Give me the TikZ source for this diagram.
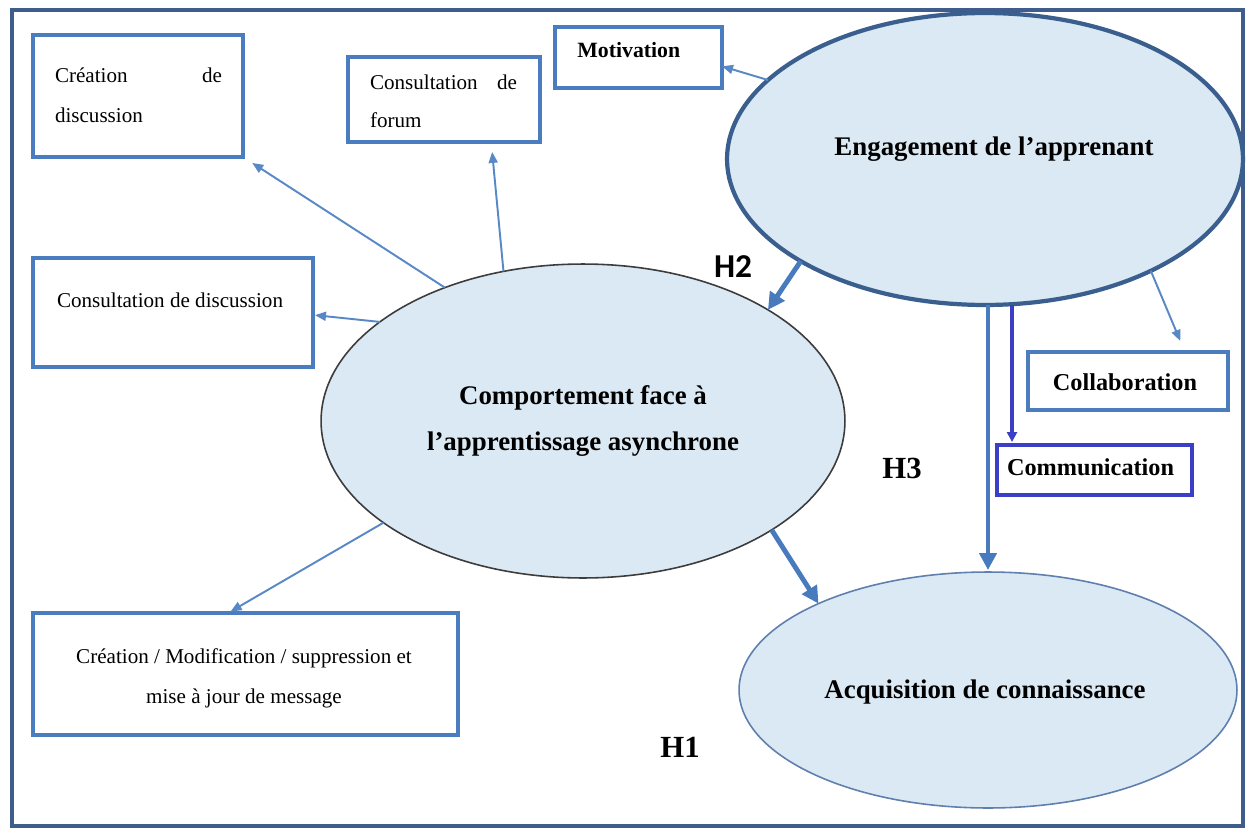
\documentclass[tikz,border=0pt]{standalone}
\usepackage{fontspec}
\setmainfont{Liberation Serif}
\newfontfamily\labelsans{Carlito}
\usetikzlibrary{arrows.meta,shapes.geometric,calc}

\definecolor{boxblue}{RGB}{74,125,192}
\definecolor{framecol}{RGB}{62,92,140}
\definecolor{engedge}{RGB}{58,95,142}
\definecolor{bubble}{RGB}{218,233,243}
\definecolor{linkblue}{RGB}{88,137,198}
\definecolor{strongblue}{RGB}{72,122,190}
\definecolor{combl}{RGB}{58,63,198}
\definecolor{compedge}{RGB}{60,60,60}
\definecolor{acqedge}{RGB}{95,127,174}

\tikzset{
  x=0.02cm, y=-0.02cm,
  box/.style={draw=boxblue, line width=2.3pt, fill=white, rectangle,
              inner sep=0pt, outer sep=0pt},
  bubblenode/.style={ellipse, fill=bubble, inner sep=0pt, outer sep=0pt},
  txt/.style={inner sep=0pt, outer sep=0pt, font=\fontsize{12}{14}\selectfont},
  boldtxt/.style={inner sep=0pt, outer sep=0pt, font=\fontsize{13.8}{16}\selectfont\bfseries},
  bigtxt/.style={inner sep=0pt, outer sep=0pt, font=\fontsize{15.3}{18}\selectfont\bfseries},
  hyp/.style={inner sep=0pt, outer sep=0pt, font=\fontsize{17.5}{20}\selectfont\bfseries},
  thinlink/.style={draw=linkblue, line width=1.1pt,
              -{Triangle[length=0.22cm,width=0.18cm]}},
  thicklink/.style={draw=strongblue, line width=2.8pt,
              -{Triangle[length=0.34cm,width=0.34cm]}},
}

\begin{document}
\begin{tikzpicture}
  \useasboundingbox (0,0) rectangle (1247,828);
  \fill[white] (0,0) rectangle (1247,828);

  % outer frame
  \draw[framecol, line width=2.4pt] (12,10) rectangle (1243,826);

  % main constructs
  \node[bubblenode, draw=compedge, line width=0.9pt,
        minimum width=10.48cm, minimum height=6.28cm,
        align=center, font=\fontsize{15.3}{26.6}\selectfont\bfseries]
        (comp) at (583,421) {Comportement face à\\l’apprentissage asynchrone};
  \node[bubblenode, draw=engedge, line width=2.4pt,
        minimum width=10.32cm, minimum height=5.84cm] (eng) at (985,159) {};
  \node[bigtxt, anchor=base] (englabel) at (994,155) {Engagement de l’apprenant};
  \node[bubblenode, draw=acqedge, line width=0.9pt,
        minimum width=9.96cm, minimum height=4.72cm] (acq) at (988,690) {};
  \node[bigtxt, anchor=base] (acqlabel) at (985,698) {Acquisition de connaissance};

  % indicator boxes
  \node[box, minimum width=4.2cm, minimum height=2.44cm] (crd) at (138,96) {};
  \node[txt, anchor=base west] (crd1) at (55,83) {\makebox[3.34cm][s]{Création de}};
  \node[txt, anchor=base west] (crd2) at (55,122) {discussion};

  \node[box, minimum width=3.84cm, minimum height=1.70cm] (forum) at (444,99.5) {};
  \node[txt, anchor=base west] (forum1) at (370,90) {\makebox[2.94cm][s]{Consultation de}};
  \node[txt, anchor=base west] (forum2) at (370,128) {forum};

  \node[box, minimum width=3.34cm, minimum height=1.22cm] (mot) at (638.5,57.5) {};
  \node[inner sep=0pt, font=\fontsize{12.4}{14}\selectfont\bfseries, anchor=base west]
        (motlabel) at (577,58) {Motivation};

  \node[box, minimum width=5.6cm, minimum height=2.18cm] (cdd) at (173,312.5) {};
  \node[txt, anchor=base west] (cddlabel) at (57,307) {Consultation de discussion};

  \node[box, minimum width=8.5cm, minimum height=2.44cm] (cmm) at (245.5,674) {};
  \node[txt, anchor=base] (cmm1) at (244,663) {Création / Modification / suppression et};
  \node[txt, anchor=base] (cmm2) at (244,703) {mise à jour de message};

  \node[box, minimum width=4.0cm, minimum height=1.16cm] (col) at (1128,381) {};
  \node[boldtxt, anchor=base] (collabel) at (1125,390) {Collaboration};

  \node[box, draw=combl, minimum width=3.9cm, minimum height=1.0cm] (com) at (1094.5,470) {};
  \node[boldtxt, anchor=base west] (comlabel) at (1007,475) {Communication};
  \coordinate (comtop) at ($(com.north west)+(15,0)$);
  \coordinate (acqtop) at (acq.north);

  % hypothesis labels
  \node[inner sep=0pt, font=\labelsans\fontsize{19}{22}\selectfont\bfseries, anchor=base]
        (h2) at (733,277) {H2};
  \node[hyp, anchor=base] (h3) at (902,478) {H3};
  \node[hyp, anchor=base] (h1) at (680,757) {H1};

  % behaviour indicators
  \draw[thinlink, shorten >=0.22cm] (comp.136.6) -- (crd.south east);
  \draw[thinlink, shorten >=0.2cm] (comp.118.9) -- (forum.-42.7);
  \draw[thinlink, shorten >=0.04cm] (comp.154.5) -- (cdd.-1);
  \draw[thinlink, shorten >=0.06cm] (comp.207.2) -- (cmm.106);

  % engagement indicators
  \draw[thinlink] (eng.160.4) -- (mot.-6.5);
  \draw[thinlink, shorten >=0.24cm] (eng.-34.2) -- (col.27.8);
  \draw[draw=combl, line width=1.8pt, -{Triangle[length=0.2cm,width=0.2cm]},
        shorten >=0.06cm] (comtop |- eng.south) -- (comtop);

  % hypotheses
  \draw[thicklink] (eng.209.8) -- (comp.31.8);
  \draw[thicklink, shorten >=0.04cm] (acqtop |- eng.south) -- (acqtop);
  \draw[thicklink] (comp.-30.9) -- (acq.153.7);
\end{tikzpicture}
\end{document}
